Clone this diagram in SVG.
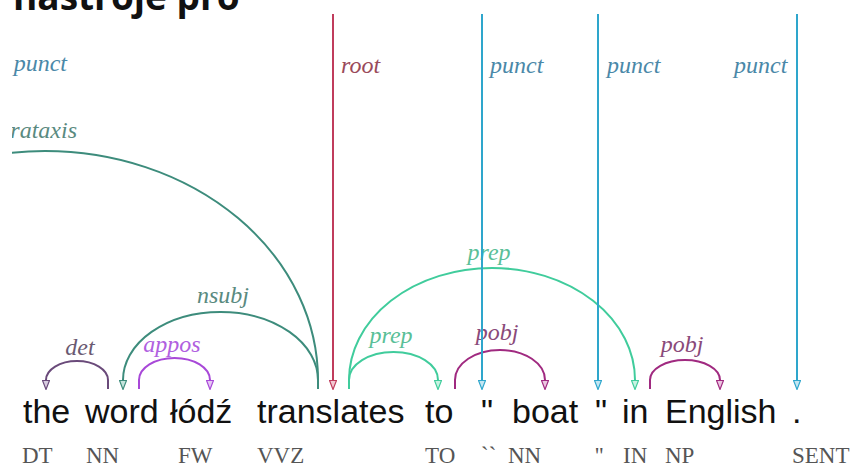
<svg xmlns="http://www.w3.org/2000/svg" width="852" height="468" viewBox="0 0 852 468">
<style>
.w{font-family:"Liberation Sans",Arial,sans-serif;font-size:34px;fill:#111}
.t{font-family:"Liberation Serif","Times New Roman",serif;font-size:23px;fill:#555}
.l{font-family:"Liberation Serif","Times New Roman",serif;font-style:italic;font-size:24px}
.a{fill:none;stroke-width:2}
.hd{font-family:"Open Sans","Noto Sans",sans-serif;font-size:37px;font-weight:bold;fill:#111}
</style>
<defs>
<clipPath id="clip"><rect x="12" y="14" width="840" height="454"/></clipPath>
<marker id="mDet" viewBox="0 0 10 8" refX="0" refY="4" markerWidth="10" markerHeight="8" markerUnits="userSpaceOnUse" orient="auto"><path d="M0.5,0.5 L9.5,4 L0.5,7.5 z" fill="#d8cce0" stroke="#6a4a7a" stroke-width="1.2"/></marker>
<marker id="mApp" viewBox="0 0 10 8" refX="0" refY="4" markerWidth="10" markerHeight="8" markerUnits="userSpaceOnUse" orient="auto"><path d="M0.5,0.5 L9.5,4 L0.5,7.5 z" fill="#e6c8f4" stroke="#a848d8" stroke-width="1.2"/></marker>
<marker id="mNs" viewBox="0 0 10 8" refX="0" refY="4" markerWidth="10" markerHeight="8" markerUnits="userSpaceOnUse" orient="auto"><path d="M0.5,0.5 L9.5,4 L0.5,7.5 z" fill="#c4e4dc" stroke="#3d8c7c" stroke-width="1.2"/></marker>
<marker id="mPrep" viewBox="0 0 10 8" refX="0" refY="4" markerWidth="10" markerHeight="8" markerUnits="userSpaceOnUse" orient="auto"><path d="M0.5,0.5 L9.5,4 L0.5,7.5 z" fill="#c8f2e2" stroke="#40cc9c" stroke-width="1.2"/></marker>
<marker id="mPobj" viewBox="0 0 10 8" refX="0" refY="4" markerWidth="10" markerHeight="8" markerUnits="userSpaceOnUse" orient="auto"><path d="M0.5,0.5 L9.5,4 L0.5,7.5 z" fill="#ecc6e0" stroke="#a02a80" stroke-width="1.2"/></marker>
<marker id="mRoot" viewBox="0 0 10 8" refX="0" refY="4" markerWidth="10" markerHeight="8" markerUnits="userSpaceOnUse" orient="auto"><path d="M0.5,0.5 L9.5,4 L0.5,7.5 z" fill="#f2c8d2" stroke="#c03c5c" stroke-width="1.2"/></marker>
<marker id="mPun" viewBox="0 0 10 8" refX="0" refY="4" markerWidth="10" markerHeight="8" markerUnits="userSpaceOnUse" orient="auto"><path d="M0.5,0.5 L9.5,4 L0.5,7.5 z" fill="#c4e6f2" stroke="#2ea6cc" stroke-width="1.2"/></marker>
</defs>
<rect width="852" height="468" fill="#ffffff"/>
<g id="header">
<text x="13" y="10" class="hd">nástroje pro</text>
</g>
<g id="labels">
<g clip-path="url(#clip)">
<text class="l" x="67" y="71" text-anchor="end" fill="#4a88a8">punct</text>
<text class="l" x="77" y="138" text-anchor="end" fill="#5a8a80">parataxis</text>
</g>
<text class="l" x="341" y="73" fill="#9a4a5a">root</text>
<text class="l" x="490" y="73" fill="#4a88a8">punct</text>
<text class="l" x="607" y="73" fill="#4a88a8">punct</text>
<text class="l" x="734" y="73" fill="#4a88a8">punct</text>
<text class="l" x="80" y="355" text-anchor="middle" fill="#6a5a72">det</text>
<text class="l" x="172" y="352" text-anchor="middle" fill="#b060e0">appos</text>
<text class="l" x="223" y="303" text-anchor="middle" fill="#5a8a80">nsubj</text>
<text class="l" x="391" y="343" text-anchor="middle" fill="#5abf98">prep</text>
<text class="l" x="489" y="260" text-anchor="middle" fill="#5abf98">prep</text>
<text class="l" x="497" y="340" text-anchor="middle" fill="#8a4a7a">pobj</text>
<text class="l" x="682" y="352" text-anchor="middle" fill="#8a4a7a">pobj</text>
</g>
<g id="connectors">
<path class="a" stroke="#3d8c7c" clip-path="url(#clip)" d="M318,389 V380 A273,229 0 0 0 -228,380"/>
<path class="a" stroke="#3d8c7c" d="M318,389 V380 A97.5,68 0 0 0 123,380" marker-end="url(#mNs)"/>
<path class="a" stroke="#6a4a7a" d="M108,389 V380 A31,19 0 0 0 46,380" marker-end="url(#mDet)"/>
<path class="a" stroke="#a848d8" d="M139,389 V380 A35.5,22 0 0 1 210,380" marker-end="url(#mApp)"/>
<path class="a" stroke="#40cc9c" d="M349,389 V380 A44.5,28 0 0 1 438,380" marker-end="url(#mPrep)"/>
<path class="a" stroke="#40cc9c" d="M349,389 V380 A143,112 0 0 1 635,380" marker-end="url(#mPrep)"/>
<path class="a" stroke="#a02a80" d="M455,389 V380 A45,30 0 0 1 545,380" marker-end="url(#mPobj)"/>
<path class="a" stroke="#a02a80" d="M650,389 V380 A35,20 0 0 1 720,380" marker-end="url(#mPobj)"/>
<path class="a" stroke="#c03c5c" d="M333,14 V380" marker-end="url(#mRoot)"/>
<path class="a" stroke="#2ea6cc" d="M482,14 V380" marker-end="url(#mPun)"/>
<path class="a" stroke="#2ea6cc" d="M598,14 V380" marker-end="url(#mPun)"/>
<path class="a" stroke="#2ea6cc" d="M797,14 V380" marker-end="url(#mPun)"/>
</g>
<g id="words">
<text class="w" x="23" y="423">the</text>
<text class="w" x="85" y="423">word</text>
<text class="w" x="170" y="423">łódź</text>
<text class="w" x="257" y="423">translates</text>
<text class="w" x="425" y="423">to</text>
<text class="w" x="481" y="423">"</text>
<text class="w" x="512" y="423">boat</text>
<text class="w" x="595" y="423">"</text>
<text class="w" x="622" y="423">in</text>
<text class="w" x="665" y="423">English</text>
<text class="w" x="792" y="423">.</text>
</g>
<g id="tags">
<text class="t" x="22" y="463">DT</text>
<text class="t" x="86" y="463">NN</text>
<text class="t" x="178" y="463">FW</text>
<text class="t" x="257" y="463">VVZ</text>
<text class="t" x="425" y="463">TO</text>
<text class="t" x="481" y="463">``</text>
<text class="t" x="508" y="463">NN</text>
<text class="t" x="595" y="463">''</text>
<text class="t" x="623" y="463">IN</text>
<text class="t" x="665" y="463">NP</text>
<text class="t" x="792" y="463">SENT</text>
</g>
</svg>
